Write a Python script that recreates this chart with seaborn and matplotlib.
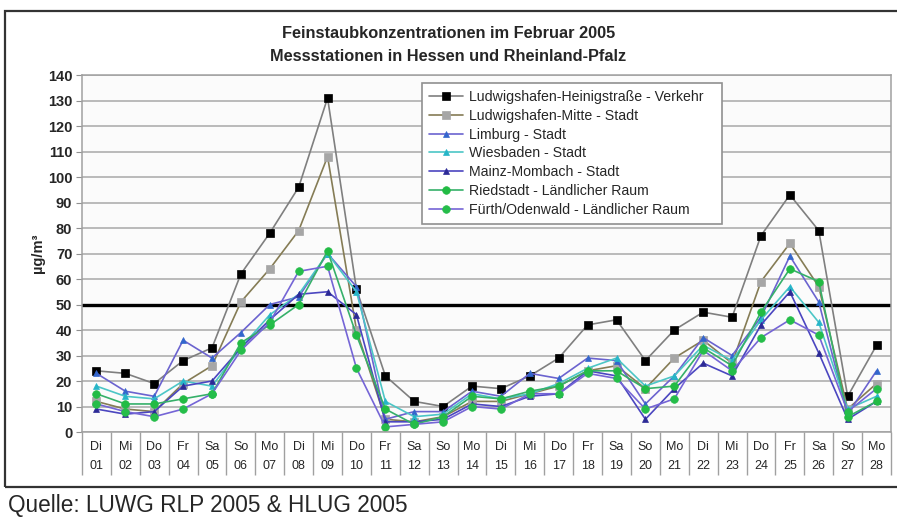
import numpy as np
import pandas as pd
import matplotlib.pyplot as plt
import matplotlib.transforms as mtransforms
from matplotlib.patches import Rectangle
import seaborn as sns

# Daten: Feinstaub (PM10) Februar 2005, Tageswerte in µg/m³
tage = list(range(1, 29))
wochentage = ['Di', 'Mi', 'Do', 'Fr', 'Sa', 'So', 'Mo'] * 4

heinigstrasse = [24, 23, 19, 28, 33, 62, 78, 96, 131, 56, 22, 12, 10, 18,
                 17, 22, 29, 42, 44, 28, 40, 47, 45, 77, 93, 79, 14, 34]
lu_mitte = [12, 9, 8, 19, 26, 51, 64, 79, 108, 40, 5, 4, 6, 12,
            12, 15, 18, 24, 26, 17, 29, 36, 27, 59, 74, 57, 9, 19]
limburg = [23, 16, 14, 36, 29, 39, 50, 53, 70, 57, 5, 8, 8, 16,
           14, 23, 21, 29, 28, 11, 22, 37, 30, 45, 69, 51, 7, 24]
wiesbaden = [18, 14, 13, 20, 18, 33, 46, 54, 70, 55, 12, 6, 7, 15,
             13, 15, 19, 25, 29, 18, 22, 34, 28, 44, 57, 43, 9, 14]
mainz = [9, 7, 8, 18, 20, 33, 44, 54, 55, 46, 4, 4, 5, 11,
         10, 14, 15, 24, 22, 5, 17, 27, 22, 42, 55, 31, 5, 12]
riedstadt = [15, 11, 11, 13, 15, 35, 42, 50, 71, 38, 9, 3, 6, 14,
             13, 16, 18, 24, 24, 17, 18, 33, 26, 47, 64, 59, 6, 12]
fuerth = [11, 8, 6, 9, 15, 32, 43, 63, 65, 25, 2, 3, 4, 10,
          9, 15, 15, 23, 21, 9, 13, 32, 24, 37, 44, 38, 8, 17]

stationen = ['Ludwigshafen-Heinigstraße - Verkehr', 'Ludwigshafen-Mitte - Stadt',
             'Limburg - Stadt', 'Wiesbaden - Stadt', 'Mainz-Mombach - Stadt',
             'Riedstadt - Ländlicher Raum', 'Fürth/Odenwald - Ländlicher Raum']
werte = [heinigstrasse, lu_mitte, limburg, wiesbaden, mainz, riedstadt, fuerth]

# Stil: Linienfarbe, Marker, Markerfarbe, Markergröße
stile = [('#7f7f7f', 's', '#000000', 5.8),
         ('#857c55', 's', '#a6a6a6', 5.5),
         ('#6b63cf', '^', '#3366cc', 5),
         ('#4cc6c6', '^', '#26b5c8', 5),
         ('#4b46c0', '^', '#2c2a96', 5),
         ('#36b06a', 'o', '#22bb44', 5.5),
         ('#7565d6', 'o', '#25bd4a', 5.5)]

sns.set_style('white')
plt.rcParams['font.family'] = ['Liberation Sans', 'DejaVu Sans']

fig = plt.figure(figsize=(8.97, 5.17), dpi=100)
fig.patch.set_facecolor('white')
ax = fig.add_axes([0.0914, 0.1644, 0.9019, 0.6905])
ax.set_facecolor('#fbfbfb')

for name, y, (lc, m, mc, ms) in zip(stationen, werte, stile):
    sns.lineplot(x=tage, y=y, ax=ax, color=lc, linewidth=1.2, marker=m,
                 markersize=ms, markerfacecolor=mc, markeredgecolor=mc,
                 markeredgewidth=0.5, label=name)

# Grenzwert 50 µg/m³
ax.axhline(50, color='black', linewidth=2.4, zorder=1.5)

ax.set_xlim(0.5, 28.5)
ax.set_ylim(0, 140)
ax.set_yticks(range(0, 141, 10))
ax.yaxis.grid(True, color='#a8a8a8', linewidth=1.1)
ax.set_axisbelow(True)
ax.tick_params(axis='y', labelsize=10.5, length=4, color='#909090', left=True, pad=3)
for lab in ax.get_yticklabels():
    lab.set_fontweight('bold')
for s in ax.spines.values():
    s.set_color('#a0a0a0')
    s.set_linewidth(1.1)

# Kategorien-Achse im Tabellenstil
ax.set_xticks(np.arange(0.5, 29, 1), minor=True)
ax.set_xticks(tage)
ax.set_xticklabels([])
ax.tick_params(axis='x', which='major', length=0)
ax.tick_params(axis='x', which='minor', length=31, color='#a0a0a0', width=1, bottom=True)
trans = mtransforms.blended_transform_factory(ax.transData, ax.transAxes)
for t, wt in zip(tage, wochentage):
    ax.text(t, -0.043, wt, transform=trans, ha='center', va='center', fontsize=9)
    ax.text(t, -0.096, f'{t:02d}', transform=trans, ha='center', va='center', fontsize=9)

ax.set_xlabel('')
ax.set_ylabel('µg/m³', fontsize=10.5, fontweight='bold', labelpad=2)

leg = ax.legend(loc='upper left', bbox_to_anchor=(0.42, 0.978), borderaxespad=0,
                fancybox=False, edgecolor='#909090', framealpha=1, fontsize=10.2,
                handlelength=2.4, handletextpad=0.4, labelspacing=0.34,
                borderpad=0.5)
leg.get_frame().set_linewidth(1.2)
# etwas mehr Platz rechts im Legendenrahmen, wie im Original
leg._legend_box.align = 'left'
for txt in leg.get_texts():
    txt.set_text(txt.get_text() + '   ')

fig.text(0.5, 0.936, 'Feinstaubkonzentrationen im Februar 2005', ha='center',
         va='center', fontsize=11.8, fontweight='bold')
fig.text(0.5, 0.890, 'Messstationen in Hessen und Rheinland-Pfalz', ha='center',
         va='center', fontsize=11.8, fontweight='bold')

# Rahmen um das Diagramm und Quellenangabe
fig.add_artist(Rectangle((0.006, 0.058), 1.2, 0.921, transform=fig.transFigure,
                         fill=False, edgecolor='#333333', linewidth=1.6))
fig.text(0.009, 0.022, 'Quelle: LUWG RLP 2005 & HLUG 2005', ha='left', va='center',
         fontsize=16.3)

plt.savefig('out.png', dpi=100)
